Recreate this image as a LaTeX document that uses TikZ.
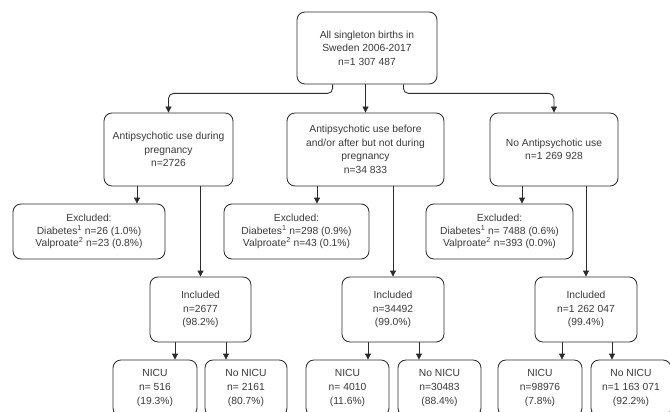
\documentclass[tikz,border=0pt]{standalone}
\usepackage{fontspec}
\setmainfont{Liberation Sans}
\usetikzlibrary{arrows.meta,calc}
\definecolor{linec}{HTML}{2B2B2B}
\definecolor{textc}{HTML}{3A3A3A}
\tikzset{
  box/.style={draw=linec, line width=0.85pt, rounded corners=8pt, align=center,
    text=textc, inner sep=2pt, font=\fontsize{10.3}{13.6}\selectfont},
  exbox/.style={box, font=\fontsize{10.3}{12.4}\selectfont},
  arr/.style={draw=linec, line width=0.85pt, -{Triangle[length=6pt,width=6pt]}},
}
\begin{document}
\begin{tikzpicture}[x=1pt,y=-1pt]
\fill[white] (0,0) rectangle (670,412);
\useasboundingbox (0,0) rectangle (670,412);
% top
\node[box, minimum width=140, minimum height=72] (top) at (367,48)
  {All singleton births in\\Sweden 2006-2017\\n=1 307 487};
% level 2
\node[box, minimum width=129, minimum height=73] (l2a) at (168.5,149.5)
  {Antipsychotic use during\\pregnancy\\n=2726};
\node[box, minimum width=157, minimum height=73] (l2b) at (365.5,149.5)
  {Antipsychotic use before\\and/or after but not during\\pregnancy\\n=34 833};
\node[box, minimum width=128, minimum height=73] (l2c) at (554,149.5)
  {No Antipsychotic use\\n=1 269 928};
% excluded
\node[exbox, minimum width=152, minimum height=55] (exA) at (89,231.5)
  {Excluded:\\Diabetes\textsuperscript{1} n=26 (1.0\%)\\Valproate\textsuperscript{2} n=23 (0.8\%)};
\node[exbox, minimum width=145, minimum height=55] (exB) at (296.5,231.5)
  {Excluded:\\Diabetes\textsuperscript{1} n=298 (0.9\%)\\Valproate\textsuperscript{2} n=43 (0.1\%)};
\node[exbox, minimum width=147, minimum height=55] (exC) at (499.5,231.5)
  {Excluded:\\Diabetes\textsuperscript{1} n= 7488 (0.6\%)\\Valproate\textsuperscript{2} n=393 (0.0\%)};
% included
\node[box, minimum width=101, minimum height=65] (inA) at (200.5,309.5)
  {Included\\n=2677\\(98.2\%)};
\node[box, minimum width=102, minimum height=65] (inB) at (393,309.5)
  {Included\\n=34492\\(99.0\%)};
\node[box, minimum width=102, minimum height=65] (inC) at (586,309.5)
  {Included\\n=1 262 047\\(99.4\%)};
% NICU
\node[box, minimum width=84, minimum height=56] (nA1) at (155,388) {NICU\\n= 516\\(19.3\%)};
\node[box, minimum width=82, minimum height=56] (nA2) at (246,388) {No NICU\\n= 2161\\(80.7\%)};
\node[box, minimum width=83, minimum height=56] (nB1) at (347.5,388) {NICU\\n= 4010\\(11.6\%)};
\node[box, minimum width=83, minimum height=56] (nB2) at (439.5,388) {No NICU\\n=30483\\(88.4\%)};
\node[box, minimum width=84, minimum height=56] (nC1) at (540,388) {NICU\\n=98976\\(7.8\%)};
\node[box, minimum width=80, minimum height=56] (nC2) at (631,388) {No NICU\\n=1 163 071\\(92.2\%)};
% connectors from top
\draw[arr, rounded corners=5pt] ([xshift=36]top.south west) -- ++(0,9) -| (l2a.north);
\draw[arr, rounded corners=5pt] ([xshift=-34]top.south east) -- ++(0,9) -| (l2c.north);
\draw[arr] (l2b.north |- top.south) -- (l2b.north);
% to excluded
\draw[arr] ([xshift=-31.5]l2a.south) -- ([xshift=-31.5]l2a.south |- exA.north);
\draw[arr] ([xshift=-48.5]l2b.south) -- ([xshift=-48.5]l2b.south |- exB.north);
\draw[arr] ([xshift=-32]l2c.south) -- ([xshift=-32]l2c.south |- exC.north);
% to included
\draw[arr] (inA.north |- l2a.south) -- (inA.north);
\draw[arr] (inB.north |- l2b.south) -- (inB.north);
\draw[arr] (inC.north |- l2c.south) -- (inC.north);
% to NICU
\draw[arr] ([xshift=-25.5]inA.south) -- ([xshift=-25.5]inA.south |- nA1.north);
\draw[arr] ([xshift=25.5]inA.south) -- ([xshift=25.5]inA.south |- nA2.north);
\draw[arr] ([xshift=-25]inB.south) -- ([xshift=-25]inB.south |- nB1.north);
\draw[arr] ([xshift=26]inB.south) -- ([xshift=26]inB.south |- nB2.north);
\draw[arr] ([xshift=-24]inC.south) -- ([xshift=-24]inC.south |- nC1.north);
\draw[arr] ([xshift=26]inC.south) -- ([xshift=26]inC.south |- nC2.north);
\end{tikzpicture}
\end{document}
